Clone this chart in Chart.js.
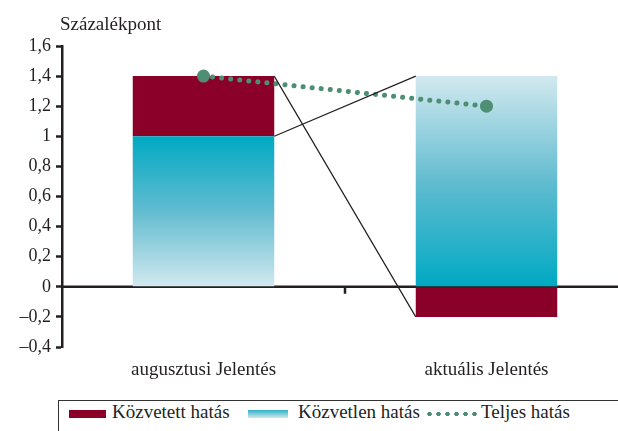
<!DOCTYPE html>
<html>
<head>
<meta charset="utf-8">
<script src="https://cdn.jsdelivr.net/npm/chart.js@4.4.1/dist/chart.umd.min.js"></script>
<style>
  html, body { margin: 0; padding: 0; background: #fff; overflow: hidden; }
  body { width: 618px; height: 431px; position: relative; font-family: "Liberation Serif", "DejaVu Serif", serif; color: #231f20; }
  #wrap { position: absolute; left: 0; top: 0; width: 640px; height: 385px; }
  #ytitle { position: absolute; left: 60px; top: 13px; font-size: 19px; }
  #legend { position: absolute; left: 58px; top: 400px; width: 600px; height: 40px; border: 1.5px solid #333; box-sizing: border-box; font-size: 19px; }
  .sw { position: absolute; top: 9px; height: 8px; }
  .lt { position: absolute; top: 0px; white-space: nowrap; }
</style>
</head>
<body>
<div id="wrap"><canvas id="chart"></canvas></div>
<div id="ytitle">Százalékpont</div>
<div id="legend">
  <div class="sw" style="left:10px;width:37px;background:#8b0028;"></div>
  <div class="lt" style="left:53px;">Közvetett hatás</div>
  <div class="sw" style="left:189px;width:40px;background:linear-gradient(#2fb0c8,#cfe8ee);"></div>
  <div class="lt" style="left:239px;">Közvetlen hatás</div>
  <div class="sw" style="left:366px;top:10px;width:52px;height:6px;background:radial-gradient(circle, #4e8e74 2px, transparent 2.4px) 0 0/9px 6px repeat-x;"></div>
  <div class="lt" style="left:422px;">Teljes hatás</div>
</div>
<script>
const categories = ['augusztusi Jelentés', 'aktuális Jelentés'];
const indirect = [0.4, -0.2];   // Közvetett hatás
const direct = [1.0, 1.4];      // Közvetlen hatás
const total = [1.4, 1.2];       // Teljes hatás
const yTicks = [1.6, 1.4, 1.2, 1, 0.8, 0.6, 0.4, 0.2, 0, -0.2, -0.4];

const red = '#8b0028';
const tealDark = '#00a9c3';
const tealMid = '#62bcd0';
const tealLight = '#d2e9ef';
const green = '#4e8e74';
const ink = '#231f20';
const serif = '"Liberation Serif", "DejaVu Serif", serif';

function directFill(ctx) {
  const chart = ctx.chart;
  if (!chart.chartArea) return tealDark;
  const y = chart.scales.y;
  const i = ctx.dataIndex;
  let g;
  if (direct[i] >= 0 && indirect[i] >= 0) {
    // red sits on top: dark at the top
    g = chart.ctx.createLinearGradient(0, y.getPixelForValue(direct[i]), 0, y.getPixelForValue(0));
  } else {
    // red below zero: dark at the bottom
    g = chart.ctx.createLinearGradient(0, y.getPixelForValue(0), 0, y.getPixelForValue(direct[i]));
  }
  g.addColorStop(0, tealDark);
  g.addColorStop(0.5, tealMid);
  g.addColorStop(1, tealLight);
  return g;
}

function fmt(v) {
  return (v < 0 ? '\u2013' : '') + String(Math.abs(v)).replace('.', ',');
}

const connectors = {
  id: 'connectors',
  afterDatasetsDraw(chart) {
    const c = chart.ctx;
    const y = chart.scales.y;
    const bars = chart.getDatasetMeta(1).data;
    const b0 = bars[0], b1 = bars[1];
    const x0 = b0.x + b0.width / 2;
    const x1 = b1.x - b1.width / 2;
    c.save();
    c.strokeStyle = ink;
    c.lineWidth = 1.2;
    c.beginPath();
    c.moveTo(x0, y.getPixelForValue(direct[0] + indirect[0]));
    c.lineTo(x1, y.getPixelForValue(indirect[1]));
    c.moveTo(x0, y.getPixelForValue(direct[0]));
    c.lineTo(x1, y.getPixelForValue(direct[1]));
    c.stroke();
    c.restore();
  }
};

const zeroAxis = {
  id: 'zeroAxis',
  beforeDatasetsDraw(chart) {
    const c = chart.ctx;
    const y0 = chart.scales.y.getPixelForValue(0);
    const bars = chart.getDatasetMeta(1).data;
    const xm = (bars[0].x + bars[1].x) / 2;
    c.save();
    c.strokeStyle = ink;
    c.lineWidth = 2.5;
    c.beginPath();
    c.moveTo(chart.chartArea.left, y0);
    c.lineTo(chart.width, y0);
    c.moveTo(xm, y0);
    c.lineTo(xm, y0 + 7);
    c.stroke();
    c.restore();
  }
};

new Chart(document.getElementById('chart'), {
  data: {
    labels: categories,
    datasets: [
      {
        type: 'line',
        label: 'Teljes hatás',
        data: total,
        order: 0,
        borderColor: green,
        backgroundColor: green,
        borderWidth: 5,
        borderDash: [0.1, 9],
        borderCapStyle: 'round',
        pointRadius: 6.5,
        pointBackgroundColor: green,
        pointBorderWidth: 0,
        stack: 'total'
      },
      {
        type: 'bar',
        label: 'Közvetlen hatás',
        data: direct,
        order: 1,
        backgroundColor: directFill,
        stack: 'bars',
        barPercentage: 0.5,
        categoryPercentage: 1.0
      },
      {
        type: 'bar',
        label: 'Közvetett hatás',
        data: indirect,
        order: 1,
        backgroundColor: red,
        stack: 'bars',
        barPercentage: 0.5,
        categoryPercentage: 1.0
      }
    ]
  },
  options: {
    responsive: true,
    maintainAspectRatio: false,
    animation: false,
    layout: { padding: { top: 46, right: 12, left: 0, bottom: 0 } },
    plugins: {
      legend: { display: false },
      tooltip: { enabled: false }
    },
    scales: {
      x: {
        stacked: true,
        grid: { display: false },
        border: { display: false },
        afterFit(scale) { scale.height = 38; },
        ticks: { color: ink, padding: 4, font: { family: serif, size: 19 } }
      },
      y: {
        stacked: true,
        min: -0.4,
        max: 1.6,
        afterFit(scale) { scale.width = 62; },
        afterBuildTicks(scale) { scale.ticks = yTicks.map(v => ({ value: v })); },
        grid: { drawOnChartArea: false, tickLength: 6, tickWidth: 2.5, tickColor: ink },
        border: { display: true, color: ink, width: 2.5 },
        ticks: {
          color: ink,
          padding: 5,
          font: { family: serif, size: 18 },
          callback: v => fmt(v)
        }
      }
    }
  },
  plugins: [zeroAxis, connectors]
});
</script>
</body>
</html>
